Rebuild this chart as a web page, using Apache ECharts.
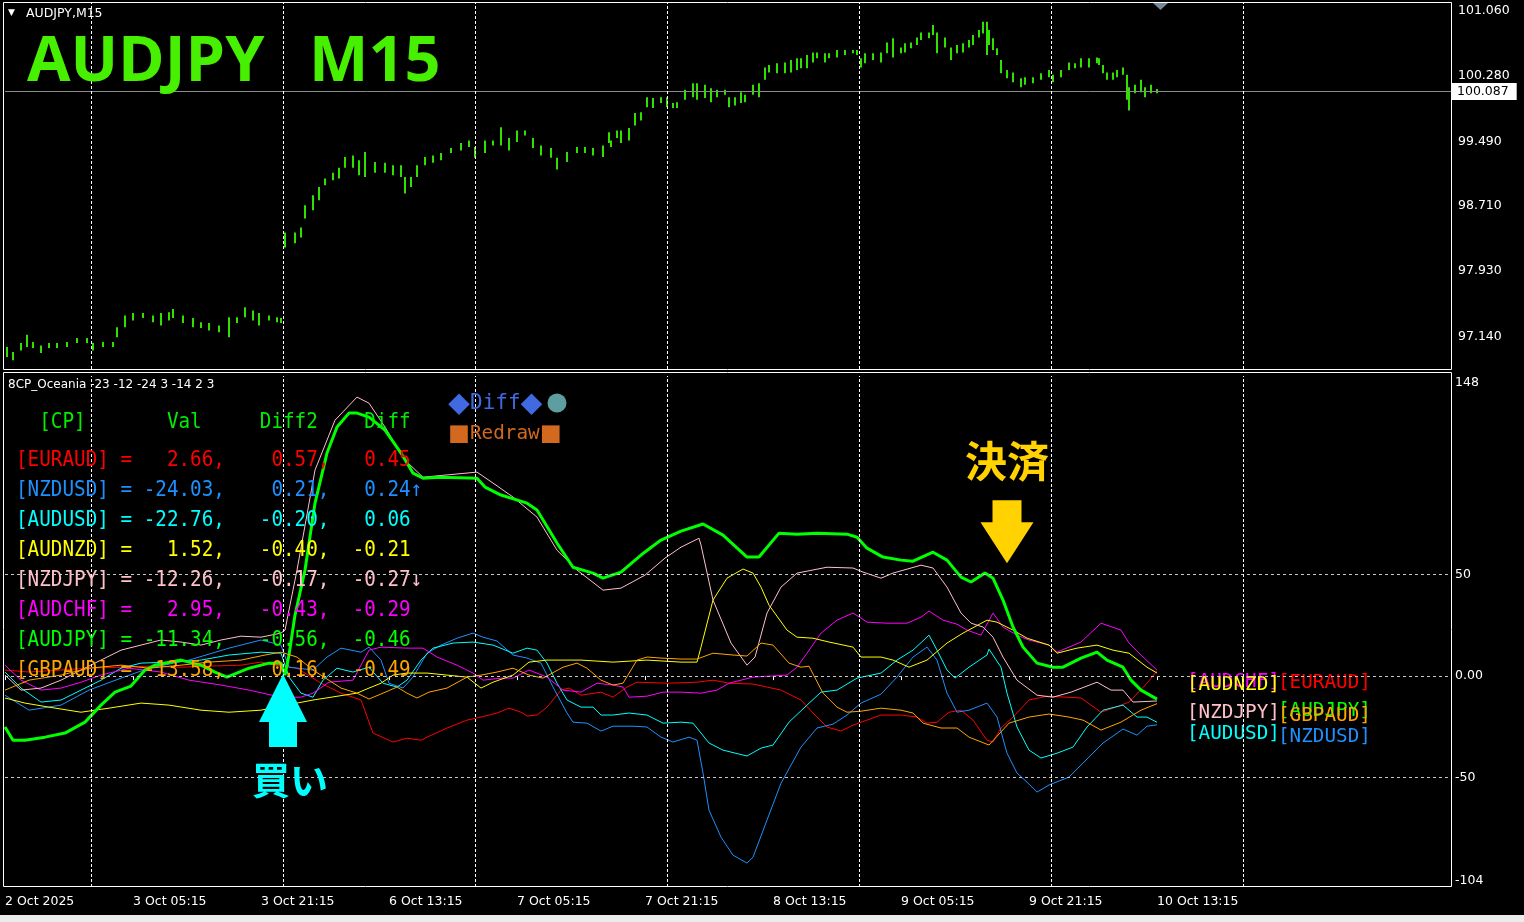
<!DOCTYPE html>
<html><head><meta charset="utf-8">
<script src="https://cdn.jsdelivr.net/npm/echarts@6/dist/echarts.min.js"></script>
<style>html,body{margin:0;padding:0;background:#000;overflow:hidden}#c{width:1524px;height:922px}</style>
</head><body><div id="c"></div>
<script>
// ---------- axis / tick data ----------
const timeTicks = [0, 64, 128, 192, 256, 320, 384, 448, 512, 576];
const timeLabels = ['2 Oct 2025', '3 Oct 05:15', '3 Oct 21:15', '6 Oct 13:15', '7 Oct 05:15', '7 Oct 21:15', '8 Oct 13:15', '9 Oct 05:15', '9 Oct 21:15', '10 Oct 13:15'];
const daySeparators = [43, 139, 235, 331, 427, 523, 619];
const priceTicks = [97.14, 97.93, 98.71, 99.49, 100.28, 101.06];
const lastPrice = 100.087;
const indTicks = [-104, -50, 0, 50, 148];
const indLevels = [50, 0, -50];

// ---------- AUDJPY M15 bars: [barIndex, low, high] ----------
const priceBars = [[1,96.89,97.01],[4,96.85,96.95],[8,96.97,97.06],[11,97.01,97.16],[14,97.00,97.07],[18,96.94,97.03],[22,97.00,97.06],[26,97.00,97.06],[31,97.01,97.07],[36,97.06,97.12],[41,97.06,97.12],[44,96.97,97.06],[49,97.01,97.07],[54,97.01,97.07],[56,97.13,97.25],[60,97.25,97.39],[64,97.33,97.42],[69,97.36,97.42],[74,97.31,97.39],[78,97.27,97.42],[82,97.33,97.43],[84,97.36,97.47],[89,97.30,97.39],[94,97.25,97.36],[98,97.24,97.31],[102,97.21,97.30],[107,97.19,97.27],[112,97.13,97.37],[116,97.30,97.37],[120,97.37,97.49],[124,97.33,97.45],[127,97.27,97.42],[132,97.33,97.39],[136,97.31,97.37],[138,97.30,97.36],[140,98.21,98.39],[145,98.26,98.39],[148,98.33,98.45],[150,98.56,98.72],[154,98.66,98.84],[157,98.78,98.94],[160,98.96,99.04],[164,99.02,99.11],[167,99.04,99.17],[170,99.17,99.30],[174,99.17,99.32],[177,99.08,99.26],[180,99.06,99.36],[185,99.11,99.24],[190,99.11,99.23],[194,99.08,99.20],[198,99.06,99.20],[200,98.86,99.06],[203,98.94,99.06],[206,99.06,99.20],[210,99.20,99.30],[214,99.23,99.32],[218,99.26,99.35],[223,99.35,99.41],[228,99.38,99.47],[232,99.42,99.50],[235,99.29,99.42],[240,99.35,99.50],[244,99.44,99.50],[248,99.44,99.66],[252,99.38,99.53],[256,99.48,99.62],[260,99.56,99.62],[264,99.41,99.53],[268,99.32,99.44],[273,99.29,99.41],[276,99.15,99.29],[281,99.24,99.36],[286,99.35,99.42],[290,99.35,99.42],[294,99.32,99.41],[299,99.30,99.44],[302,99.47,99.60],[303,99.42,99.50],[306,99.53,99.62],[308,99.47,99.62],[312,99.50,99.65],[315,99.68,99.83],[318,99.74,99.84],[321,99.90,100.02],[324,99.89,100.01],[328,99.95,100.02],[331,99.90,100.02],[334,99.89,99.95],[336,99.89,99.96],[340,99.99,100.11],[344,100.02,100.19],[346,99.99,100.19],[350,100.01,100.17],[353,99.96,100.13],[356,100.02,100.11],[360,100.05,100.11],[362,99.90,100.02],[365,99.92,100.02],[368,99.95,100.08],[370,99.96,100.05],[374,100.05,100.17],[377,100.02,100.19],[380,100.23,100.38],[382,100.32,100.41],[386,100.31,100.43],[390,100.31,100.44],[393,100.32,100.47],[396,100.35,100.49],[398,100.37,100.49],[401,100.37,100.53],[404,100.44,100.56],[406,100.49,100.56],[410,100.44,100.55],[412,100.49,100.55],[416,100.50,100.59],[420,100.53,100.59],[424,100.55,100.59],[426,100.53,100.59],[428,100.38,100.49],[430,100.43,100.55],[434,100.47,100.55],[438,100.44,100.56],[441,100.55,100.68],[444,100.50,100.73],[448,100.55,100.62],[450,100.56,100.67],[453,100.61,100.68],[456,100.65,100.74],[458,100.71,100.80],[462,100.73,100.80],[464,100.77,100.89],[466,100.55,100.80],[470,100.62,100.74],[473,100.47,100.62],[476,100.55,100.65],[479,100.56,100.67],[482,100.62,100.71],[484,100.65,100.77],[487,100.74,100.83],[489,100.79,100.93],[491,100.53,100.93],[492,100.65,100.83],[494,100.59,100.73],[496,100.53,100.61],[498,100.31,100.47],[501,100.25,100.35],[504,100.20,100.32],[508,100.14,100.25],[510,100.17,100.26],[514,100.19,100.26],[518,100.23,100.31],[522,100.26,100.35],[524,100.20,100.29],[528,100.26,100.35],[532,100.35,100.44],[535,100.37,100.43],[538,100.38,100.49],[542,100.38,100.49],[546,100.43,100.50],[547,100.41,100.49],[549,100.31,100.41],[551,100.23,100.32],[554,100.23,100.32],[556,100.26,100.35],[559,100.29,100.38],[561,99.99,100.29],[562,99.86,100.14],[565,100.07,100.17],[568,100.08,100.23],[570,100.02,100.14],[573,100.07,100.17],[576,100.07,100.12]];

// ---------- 8CP_Oceania indicator lines: [barIndex, value] ----------
const EURAUD = [[0,3.0],[12,2.0],[28,3.0],[42,3.9],[58,4.4],[72,4.9],[88,4.4],[102,4.9],[118,5.4],[128,6.9],[138,4.9],[146,3.9],[158,-3.5],[168,-8.4],[178,-11.8],[184,-28.1],[194,-32.5],[201,-30.6],[208,-31.6],[211,-30.1],[221,-25.6],[231,-21.7],[238,-20.2],[246,-18.2],[252,-15.8],[258,-17.8],[261,-19.7],[266,-19.2],[271,-15.3],[278,-6.9],[282,-5.9],[288,-9.4],[298,-7.9],[304,-10.4],[311,-5.4],[316,-3.0],[331,-3.5],[346,-3.0],[354,-2.0],[362,-3.5],[374,-3.9],[388,-6.9],[398,-11.8],[404,-18.2],[411,-25.1],[418,-27.1],[424,-24.2],[431,-21.7],[438,-19.2],[448,-19.2],[456,-20.2],[461,-23.2],[466,-22.7],[472,-17.8],[478,-16.8],[484,-21.7],[491,-31.6],[494,-32.5],[498,-25.6],[504,-20.2],[512,-11.8],[521,-9.9],[531,-10.4],[538,-10.8],[548,-17.8],[554,-15.8],[562,-12.8],[571,-3.5],[576,2.66]];
const NZDUSD = [[0,-9.4],[12,-16.8],[28,-14.3],[42,-6.9],[58,-1.0],[72,3.9],[92,7.9],[112,13.8],[128,17.8],[138,15.3],[142,4.4],[154,3.0],[161,9.4],[168,13.8],[178,11.8],[182,14.3],[188,7.9],[192,-3.5],[199,-5.9],[204,-0.5],[211,11.3],[218,15.3],[226,18.7],[234,21.2],[239,19.2],[246,17.3],[254,10.4],[261,8.9],[268,6.4],[274,-5.4],[281,-18.2],[284,-22.7],[291,-23.2],[298,-27.1],[304,-24.7],[314,-24.7],[321,-25.1],[328,-30.1],[334,-32.5],[342,-30.1],[346,-31.6],[349,-47.8],[352,-66.1],[358,-79.4],[364,-88.3],[371,-92.2],[374,-89.3],[381,-71.0],[388,-52.8],[398,-35.0],[406,-25.6],[414,-23.7],[421,-19.2],[428,-13.3],[438,-8.9],[446,-0.5],[454,9.4],[461,14.3],[466,7.9],[471,-8.4],[476,-17.8],[482,-16.8],[491,-13.3],[496,-20.2],[501,-38.0],[506,-47.8],[511,-52.3],[516,-57.2],[522,-53.7],[532,-49.8],[542,-39.9],[549,-33.0],[559,-26.1],[566,-29.1],[571,-24.7],[576,-24.03]];
const AUDUSD = [[0,2.0],[8,-5.9],[18,-12.8],[28,-11.8],[38,-6.9],[48,-2.0],[58,3.9],[68,6.4],[82,6.9],[98,7.9],[112,10.4],[128,11.8],[138,11.3],[142,-0.5],[148,-8.4],[154,-10.4],[159,-2.0],[166,3.9],[174,2.0],[182,4.4],[189,-3.5],[196,-5.4],[201,-2.0],[208,7.9],[214,13.8],[224,16.3],[234,16.8],[244,15.3],[254,11.3],[261,13.8],[266,12.8],[271,6.4],[276,-3.5],[281,-11.8],[288,-15.3],[294,-15.3],[298,-19.2],[304,-19.2],[312,-18.2],[321,-19.2],[329,-23.2],[338,-22.7],[344,-23.2],[352,-33.0],[359,-36.5],[371,-39.4],[378,-35.5],[384,-34.0],[392,-22.7],[401,-14.3],[408,-7.9],[416,-6.9],[426,-1.0],[438,1.5],[446,7.9],[454,12.8],[462,20.2],[466,12.8],[471,3.0],[475,-1.0],[482,4.4],[491,10.4],[492,13.3],[498,4.4],[501,-8.4],[506,-25.1],[512,-36.5],[518,-40.4],[526,-38.0],[534,-35.0],[541,-25.1],[549,-16.8],[559,-14.3],[566,-20.2],[571,-20.2],[576,-22.76]];
const AUDNZD = [[0,-10.8],[10,-13.3],[22,-15.3],[38,-17.8],[52,-15.8],[68,-13.3],[82,-14.3],[98,-16.8],[112,-17.8],[128,-16.8],[140,-14.3],[146,-13.3],[154,-11.8],[176,-8.4],[182,-5.9],[188,-3.5],[194,0.5],[201,1.5],[211,1.5],[221,0.5],[231,-0.5],[238,-5.9],[244,-3.0],[254,0.5],[262,6.9],[271,7.9],[288,7.9],[304,6.9],[321,7.9],[338,6.9],[346,6.9],[348,14.3],[354,37.5],[361,48.3],[369,52.8],[374,50.8],[378,43.9],[382,35.0],[391,22.7],[396,19.2],[404,18.7],[412,16.8],[424,14.3],[428,9.4],[438,9.4],[444,7.9],[452,4.4],[461,7.9],[471,16.3],[479,21.2],[491,27.6],[496,26.6],[504,22.7],[511,18.7],[522,15.3],[526,11.3],[536,13.8],[546,15.3],[554,12.8],[562,11.3],[571,4.4],[576,1.52]];
const NZDJPY = [[0,0.5],[8,-6.9],[18,-5.9],[28,-2.0],[38,3.0],[48,7.9],[58,12.8],[68,15.3],[78,17.8],[88,16.8],[98,15.3],[108,17.8],[118,19.7],[128,19.2],[138,21.2],[140,22.7],[146,52.3],[155,101.6],[165,126.2],[176,137.6],[182,134.6],[190,122.8],[200,106.5],[209,98.1],[236,100.6],[244,95.2],[254,88.3],[266,78.4],[276,62.1],[286,52.3],[299,42.4],[308,43.4],[320,49.8],[330,58.2],[338,63.6],[347,68.0],[348,64.6],[354,37.5],[363,16.3],[371,5.4],[375,9.4],[381,31.1],[388,43.9],[396,50.8],[411,53.7],[424,53.3],[429,51.3],[438,48.3],[444,50.8],[458,54.7],[464,53.3],[471,43.9],[478,31.1],[483,26.1],[489,24.2],[494,19.2],[499,9.4],[506,-2.0],[516,-9.4],[524,-10.4],[533,-7.9],[546,-3.0],[553,-6.9],[559,-6.9],[564,-12.8],[576,-12.26]];
const AUDCHF = [[0,5.4],[8,-2.0],[18,-6.9],[28,-5.9],[38,-3.0],[48,0.5],[62,3.9],[78,2.0],[92,-2.0],[108,-4.4],[122,-6.9],[138,-10.4],[148,-10.4],[154,-8.4],[162,-3.0],[174,-2.0],[182,12.8],[188,14.3],[201,13.8],[209,13.8],[216,9.4],[226,5.4],[234,1.5],[239,-2.0],[248,-1.0],[254,-1.0],[262,3.0],[271,-0.5],[279,-6.9],[288,-7.9],[296,-3.5],[304,-4.4],[309,-5.4],[312,-10.4],[321,-9.9],[329,-7.9],[338,-7.9],[348,-8.4],[356,-6.9],[362,-3.5],[374,-0.5],[391,0.5],[396,4.4],[401,11.3],[408,21.2],[416,27.6],[424,31.1],[428,28.6],[431,26.6],[441,26.1],[451,26.1],[458,29.1],[462,32.1],[469,27.6],[476,25.6],[481,22.7],[488,20.2],[494,31.1],[499,24.2],[506,20.2],[512,17.8],[522,15.3],[526,11.8],[538,16.8],[548,26.1],[558,22.7],[562,16.3],[568,10.4],[576,2.95]];
const AUDJPY = [[0,-25.1],[4,-31.6],[10,-31.6],[20,-30.1],[30,-28.1],[40,-22.7],[48,-14.3],[55,-7.9],[63,-4.9],[70,3.0],[75,5.4],[88,7.9],[98,5.4],[105,2.0],[111,-0.5],[122,3.9],[132,6.4],[138,6.4],[140,0.5],[142,10.4],[145,30.1],[150,52.3],[155,85.3],[161,110.0],[166,122.8],[172,129.7],[176,129.7],[182,127.7],[190,121.3],[198,110.0],[204,100.1],[209,97.6],[218,98.1],[236,97.6],[240,93.2],[248,89.3],[261,85.3],[266,81.9],[276,65.6],[284,53.7],[294,50.8],[299,48.3],[308,51.3],[318,59.7],[328,67.1],[338,71.5],[349,75.0],[359,69.5],[371,58.7],[377,58.7],[387,70.5],[396,70.0],[406,70.5],[421,70.0],[426,68.5],[431,63.1],[439,58.7],[448,57.2],[454,56.7],[464,61.1],[471,57.2],[478,48.8],[483,46.4],[490,50.8],[494,48.3],[499,37.5],[504,24.2],[509,14.3],[516,6.4],[524,4.4],[529,4.4],[538,8.9],[546,11.8],[551,7.9],[559,4.4],[563,-2.0],[568,-6.9],[576,-11.34]];
const GBPAUD = [[0,-6.9],[12,-2.0],[28,0.5],[42,3.9],[58,5.4],[72,3.9],[88,5.4],[102,6.9],[118,7.9],[130,10.4],[138,11.8],[146,9.4],[154,3.0],[168,-5.9],[176,-8.4],[182,-11.3],[189,-8.4],[196,-5.4],[201,-8.4],[206,-10.8],[212,-7.9],[221,-5.9],[231,-0.5],[238,0.5],[246,2.0],[254,3.9],[262,0.5],[269,-1.0],[279,4.4],[286,6.4],[291,3.9],[298,-2.0],[304,-4.4],[309,-3.5],[316,7.9],[321,9.4],[328,8.9],[338,8.4],[346,8.4],[354,11.3],[364,10.4],[371,9.9],[378,16.3],[384,15.3],[392,6.4],[398,4.4],[402,4.9],[409,-8.4],[416,-15.3],[421,-17.8],[428,-17.3],[438,-15.8],[448,-16.8],[454,-18.2],[459,-23.2],[468,-25.6],[476,-25.6],[482,-30.1],[492,-34.0],[502,-23.2],[512,-20.2],[522,-18.7],[532,-20.2],[539,-21.7],[548,-26.6],[558,-22.7],[568,-16.8],[576,-13.58]];

// ---------- table ----------
const pairNames = ['EURAUD', 'NZDUSD', 'AUDUSD', 'AUDNZD', 'NZDJPY', 'AUDCHF', 'AUDJPY', 'GBPAUD'];
const pairVal = ['2.66', '-24.03', '-22.76', '1.52', '-12.26', '2.95', '-11.34', '-13.58'];
const pairDiff2 = ['0.57', '0.21', '-0.20', '-0.40', '-0.17', '-0.43', '-0.56', '0.16'];
const pairDiff = ['0.45', '0.24', '0.06', '-0.21', '-0.27', '-0.29', '-0.46', '-0.49'];
const pairArrow = ['', '↑', '', '', '↓', '', '', ''];

// signals [barIndex, value]
const buySignal = [139, 1.0];
const exitSignal = [501, 55.7];

// ---------- styles ----------
const lineData = { EURAUD, NZDUSD, AUDUSD, AUDNZD, NZDJPY, AUDCHF, AUDJPY, GBPAUD };
const colors = { EURAUD: '#ff0000', NZDUSD: '#1e90ff', AUDUSD: '#00ffff', AUDNZD: '#ffff00', NZDJPY: '#ffc0cb', AUDCHF: '#ff00ff', AUDJPY: '#00ff00', GBPAUD: '#ffa500' };
const endLabelCol = { AUDNZD: 30, AUDCHF: 30, NZDJPY: 30, AUDUSD: 30, EURAUD: 121, GBPAUD: 121, AUDJPY: 121, NZDUSD: 121 };
const drawOrder = ['EURAUD', 'NZDUSD', 'AUDUSD', 'AUDCHF', 'AUDNZD', 'NZDJPY', 'AUDJPY', 'GBPAUD'];
const barColor = '#30e000';
const axisFont = 'DejaVu Sans';
const monoFont = 'DejaVu Sans Mono';

const chart = echarts.init(document.getElementById('c'), null, { renderer: 'canvas' });

const lineSeries = drawOrder.map(n => ({
  type: 'line', name: n, xAxisIndex: 1, yAxisIndex: 1, data: lineData[n],
  symbol: 'none', showSymbol: false, smooth: false, animation: false, silent: true,
  lineStyle: { color: colors[n], width: n === 'AUDJPY' ? 3 : 1 },
  z: n === 'GBPAUD' ? 4 : 3,
  endLabel: { show: true, formatter: '[' + n + ']', color: colors[n], fontFamily: monoFont, fontSize: 19.3, distance: 0, offset: [endLabelCol[n], 12], align: 'left', verticalAlign: 'middle' }
}));
lineSeries[0].markLine = {
  silent: true, symbol: 'none', label: { show: false }, animation: false,
  lineStyle: { color: '#c8c8c8', type: [3, 3], width: 1 },
  data: indLevels.map(l => ({ yAxis: l }))
};
lineSeries[1].markLine = {
  silent: true, symbol: 'none', label: { show: false }, animation: false,
  lineStyle: { color: '#ffffff', type: [3, 2], width: 1 },
  data: daySeparators.map(s => ({ xAxis: s }))
};
const jp = 'Noto Sans CJK JP';
lineSeries[6].markPoint = {
  silent: true, animation: false,
  data: [
    { coord: buySignal, symbol: 'path://M24,0L48,48L38,48L38,73L10,73L10,48L0,48Z', symbolKeepAspect: false, symbolSize: [48, 73], symbolOffset: [0, 36.5],
      itemStyle: { color: '#00ffff' },
      label: { show: true, formatter: '買い', position: 'bottom', distance: 13, offset: [7, 0], color: '#00ffff', fontSize: 38, fontWeight: 'bold', fontFamily: jp } },
    { coord: exitSignal, symbol: 'path://M12,0L41,0L41,22L53,22L26.5,63L0,22L12,22Z', symbolKeepAspect: false, symbolSize: [53, 63], symbolOffset: [0, -31.5],
      itemStyle: { color: '#ffd200' },
      label: { show: true, formatter: '決済', position: 'top', distance: 18, color: '#ffd200', fontSize: 42, fontWeight: 'bold', fontFamily: jp } }
  ]
};

const priceSeries = {
  type: 'custom', xAxisIndex: 0, yAxisIndex: 0, data: priceBars, animation: false, silent: true,
  encode: { x: 0, y: [1, 2] },
  renderItem: (params, api) => {
    const p1 = api.coord([api.value(0), api.value(1)]);
    const p2 = api.coord([api.value(0), api.value(2)]);
    return { type: 'line', shape: { x1: p1[0], y1: p1[1], x2: p2[0], y2: p2[1] }, style: { stroke: barColor, lineWidth: 2 } };
  },
  markLine: {
    silent: true, symbol: 'none', animation: false,
    data: [
      { yAxis: lastPrice, lineStyle: { color: '#8a8a8a', type: 'solid', width: 1 },
        label: { show: true, position: 'end', formatter: lastPrice.toFixed(3), backgroundColor: '#ffffff', color: '#000000', fontFamily: axisFont, fontSize: 12.5, padding: [2, 8, 2, 5], distance: 1 } },
      ...daySeparators.map(s => ({ xAxis: s, lineStyle: { color: '#ffffff', type: [3, 2], width: 1 }, label: { show: false } }))
    ]
  }
};

const textEl = (x, y, text, color, font, size, extra, sy) => ({
  type: 'text', x, y, z: 50, silent: true, scaleY: sy || 1,
  style: Object.assign({ text, fill: color, font: size + 'px "' + font + '"', textAlign: 'left', textVerticalAlign: 'middle' }, extra || {})
});

const tableEls = [];
tableEls.push(textEl(16, 422, '  [CP]       Val     Diff2    Diff', '#00ee00', monoFont, 19.3, null, 1.12));
pairNames.forEach((n, i) => {
  const row = '[' + n + '] = ' + (pairVal[i] + ',').padStart(7) + (pairDiff2[i] + ',').padStart(9) + pairDiff[i].padStart(7) + pairArrow[i];
  tableEls.push(textEl(16, 460 + 30 * i, row, colors[n], monoFont, 19.3, null, 1.12));
});

const option = {
  backgroundColor: '#000000',
  animation: false,
  grid: [
    { left: 5, top: 3, width: 1446, height: 366 },
    { left: 5, top: 376, width: 1446, height: 511 }
  ],
  xAxis: [
    { type: 'value', gridIndex: 0, min: 0, max: 723, show: false },
    { type: 'value', gridIndex: 1, min: 0, max: 723,
      axisLine: { show: false }, splitLine: { show: false },
      axisTick: { show: true, customValues: timeTicks, length: 4, lineStyle: { color: '#ffffff' } },
      axisLabel: { show: true, customValues: timeTicks, formatter: v => timeLabels[timeTicks.indexOf(v)] || '', align: 'left', color: '#ffffff', fontFamily: axisFont, fontSize: 12.5, margin: 8 } }
  ],
  yAxis: [
    { type: 'value', gridIndex: 0, position: 'right', min: 96.746, max: 101.156,
      axisLine: { show: false }, splitLine: { show: false }, axisTick: { show: false },
      axisLabel: { show: true, customValues: priceTicks, formatter: v => v.toFixed(3), color: '#ffffff', fontFamily: axisFont, fontSize: 12.5, margin: 7 } },
    { type: 'value', gridIndex: 1, position: 'right', min: -104, max: 148,
      axisLine: { show: false }, splitLine: { show: false }, axisTick: { show: false },
      axisLabel: { show: true, customValues: indTicks, formatter: v => (v === 0 ? '0.00' : String(v)), color: '#ffffff', fontFamily: axisFont, fontSize: 12.5, margin: 4,
        verticalAlignMinLabel: 'bottom', verticalAlignMaxLabel: 'top' } }
  ],
  series: [priceSeries, ...lineSeries],
  graphic: { elements: [
    { type: 'rect', silent: true, z: 40, shape: { x: 3.5, y: 2.5, width: 1448, height: 367 }, style: { fill: null, stroke: '#ffffff', lineWidth: 1 } },
    { type: 'rect', silent: true, z: 40, shape: { x: 3.5, y: 372.5, width: 1448, height: 514 }, style: { fill: null, stroke: '#ffffff', lineWidth: 1 } },
    { type: 'polygon', silent: true, z: 41, shape: { points: [[1153, 3], [1168, 3], [1160.5, 10]] }, style: { fill: '#778899' } },
    { type: 'rect', silent: true, z: 40, shape: { x: 0, y: 915, width: 1524, height: 7 }, style: { fill: '#ececec' } },
    textEl(8, 13, '▼', '#ffffff', axisFont, 9),
    textEl(26, 14, 'AUDJPY,M15', '#ffffff', axisFont, 12.5),
    textEl(27, 63, 'AUDJPY', '#47f000', 'Open Sans', 63, { font: 'bold 63px "Open Sans"' }),
    textEl(309, 63, 'M15', '#47f000', 'Open Sans', 63, { font: 'bold 63px "Open Sans"' }),
    textEl(8, 385, '8CP_Oceania -23 -12 -24 3 -14 2 3', '#ffffff', axisFont, 12),
    ...tableEls,
    { type: 'text', x: 448, y: 404, z: 50, silent: true, style: { text: '{d|◆}{t|Diff}{d|◆}', textVerticalAlign: 'middle', rich: { d: { fill: '#4169e1', font: '22px "Noto Sans CJK JP"' }, t: { fill: '#4169e1', font: '21px "DejaVu Sans Mono"' } } } },
    { type: 'circle', silent: true, z: 50, shape: { cx: 557, cy: 403, r: 9.5 }, style: { fill: '#5f9ea0' } },
    { type: 'text', x: 448, y: 434, z: 50, silent: true, style: { text: '{d|■}{t|Redraw}{d|■}', textVerticalAlign: 'middle', rich: { d: { fill: '#d2691e', font: '22px "Noto Sans CJK JP"' }, t: { fill: '#d2691e', font: '19.3px "DejaVu Sans Mono"' } } } }
  ] }
};
chart.setOption(option);
</script>
</body></html>
